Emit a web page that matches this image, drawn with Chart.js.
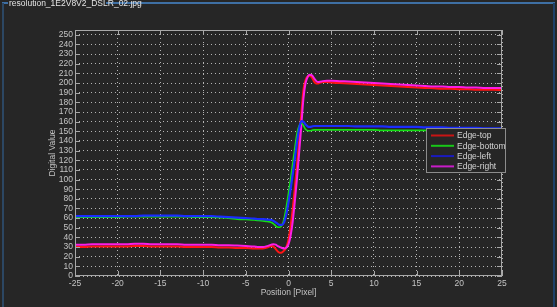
<!DOCTYPE html>
<html>
<head>
<meta charset="utf-8">
<script src="https://cdn.jsdelivr.net/npm/chart.js@4/dist/chart.umd.min.js"></script>
<style>
  html, body { margin:0; padding:0; background:#262626; width:557px; height:307px; overflow:hidden; }
  #wrap { position:absolute; left:0; top:0; width:557px; height:307px; }
  canvas { position:absolute; left:0; top:0; }
  .ln { position:absolute; pointer-events:none; }
  #ttl { position:absolute; left:9px; top:-2px; font:8.5px 'Liberation Sans Narrow','Liberation Sans',Arial,sans-serif; color:#e4e4e4; white-space:nowrap; }
</style>
</head>
<body>
<div id="wrap">
  <canvas id="c" width="557" height="307"></canvas>
  <div class="ln" style="left:2px;top:2px;width:6px;height:2px;background:#3e6fa3"></div>
  <div class="ln" style="left:106px;top:2px;width:449px;height:2px;background:#3e6fa3"></div>
  <div class="ln" style="left:2px;top:3px;width:2px;height:304px;background:#2c4763"></div>
  <div class="ln" style="left:553px;top:3px;width:2px;height:304px;background:#1f4068"></div>
  <div id="ttl">resolution_1E2V8V2_DSLR_02.jpg</div>
</div>
<script>
const seriesNames = ['Edge-top', 'Edge-bottom', 'Edge-left', 'Edge-right'];
const xTicks = [-25,-20,-15,-10,-5,0,5,10,15,20,25];
const yTicks = [0,10,20,30,40,50,60,70,80,90,100,110,120,130,140,150,160,170,180,190,200,210,220,230,240,250];

const positions = [-25,-24,-23,-22,-21,-20,-19,-18,-17,-16,-15,-14,-13,-12,-11,-10,-9,-8,-7,-6,-5,-4,
  -3.5,-3,-2.5,-2,
  -1.75,-1.5,-1.25,-1,-0.75,-0.5,-0.25,0,0.25,0.5,0.75,1,1.25,1.5,1.75,2,2.25,2.5,2.75,3,3.25,3.5,3.75,4,
  4.5,5,
  6,7,8,9,10,11,12,13,14,15,16,17,18,19,20,21,22,23,24,25];

const edgeTop = [30,30,30.5,30.5,30.5,30.5,30.5,31,31,30.5,30.5,30.5,30.5,30,30,30,30,29.5,29.5,29,29,28.5,
  28.5,28.5,29.5,31,
  30.5,28,25.5,24,24.5,26.5,30,38,52,70,92,116,141,168,193,203,207,207.5,205.5,201.5,199.5,199.5,200.5,201,
  201,200.5,
  200,199.5,199,198.5,198,197.5,197,196.5,196,195.5,195,194.5,194,194,193.5,193.5,193,193,193,192.5];

const edgeBottom = [61,61,61,61,61,61,61.5,61.5,61.5,61.5,61.5,61.5,61.5,61.5,61,61,61,60.5,60,59,58.5,58,
  57.5,57,56.5,55.5,
  54,52,50.5,50.5,53,60,72,86,101,117,133,148,156,158.5,156,152,150.5,150.5,151,151.5,151.5,151.5,151.5,151.5,
  151.5,151.5,
  151.5,151.5,151.5,151.5,151.5,151,151,151,151,151,151,150.5,150.5,150.5,150.5,150.5,150,150,150,150];

const edgeLeft = [62,62,62,62,62,62,62,62,62.5,62.5,62.5,62.5,62.5,62,62,62,62,61.5,61,60.5,60,59.5,
  59,59,58.5,58,
  57,55.5,54,53,53,56,64,76,90,106,122,139,153,160.5,160,157,155,154.5,155,155.5,155.5,155.5,155.5,155.5,
  155.5,155.5,
  155.5,155.5,155,155,155,155,154.5,154.5,154.5,154.5,154,154,154,153.5,153.5,153.5,153.5,153,153,153];

const edgeRight = [32.5,32.5,33,33,33,33,33,33.5,33.5,33,33,33,33,32.5,32.5,32.5,32.5,32,32,31.5,31,30.5,
  30,30,31,32.5,
  33,32.5,31,30,29,28.5,29.5,33,42,57,78,102,128,156,184,200,206.5,208.5,208,205,202,201,201.5,202,
  202.5,202.5,
  202,201.5,201,200.5,200,199.5,199,198.5,198,197.5,197,196.5,196.5,196,196,195.5,195.5,195,195,195];

const lineColors = ['#ff1414', '#14e014', '#1a2cff', '#ff1ce6'];
const legendColors = ['#c81414', '#18c818', '#1a1ac0', '#c81cc8'];
const lineWidths = [2, 1.6, 2.2, 2];
const allSeries = [edgeTop, edgeBottom, edgeLeft, edgeRight];
const drawOrder = [3, 1, 0, 2]; // lower 'order' drawn on top

const FONT = "'Liberation Sans Narrow','Liberation Sans',Arial,sans-serif";

const framePlugin = {
  id: 'frame',
  afterDatasetsDraw(chart) {
    const {ctx, chartArea: a, scales: {x, y}} = chart;
    ctx.save();
    ctx.strokeStyle = '#a8a8a8';
    ctx.lineWidth = 1;
    ctx.strokeRect(a.left + 0.5, a.top + 0.5, a.right - a.left - 1, a.bottom - a.top - 1);
    ctx.beginPath();
    yTicks.forEach(v => {
      const py = Math.round(y.getPixelForValue(v)) + 0.5;
      ctx.moveTo(a.left, py); ctx.lineTo(a.left + 5, py);
      ctx.moveTo(a.right, py); ctx.lineTo(a.right - 5, py);
    });
    xTicks.forEach(v => {
      const px = Math.round(x.getPixelForValue(v)) + 0.5;
      ctx.moveTo(px, a.bottom); ctx.lineTo(px, a.bottom - 5);
      ctx.moveTo(px, a.top); ctx.lineTo(px, a.top + 5);
    });
    ctx.stroke();

    // legend box
    const lx = 426, ly = 128, lw = 79, lh = 44;
    ctx.fillStyle = '#262626';
    ctx.fillRect(lx, ly, lw, lh);
    ctx.strokeStyle = '#8c8c8c';
    ctx.strokeRect(lx + 0.5, ly + 0.5, lw, lh);
    ctx.font = '8.5px ' + FONT;
    ctx.textBaseline = 'middle';
    ctx.textAlign = 'left';
    seriesNames.forEach((name, i) => {
      const yy = ly + 7.5 + i * 10.3;
      ctx.strokeStyle = legendColors[i];
      ctx.lineWidth = 2;
      ctx.beginPath();
      ctx.moveTo(lx + 5, yy); ctx.lineTo(lx + 28, yy);
      ctx.stroke();
      ctx.fillStyle = '#d4d4d4';
      ctx.fillText(name, lx + 31, yy + 0.5);
    });
    ctx.restore();
  }
};

new Chart(document.getElementById('c'), {
  type: 'line',
  data: {
    datasets: seriesNames.map((name, i) => ({
      label: name,
      order: drawOrder[i],
      data: positions.map((p, k) => ({x: p, y: allSeries[i][k]})),
      borderColor: lineColors[i],
      backgroundColor: lineColors[i],
      borderWidth: lineWidths[i],
      pointRadius: 0,
      cubicInterpolationMode: 'monotone',
      fill: false
    }))
  },
  options: {
    responsive: false,
    animation: false,
    layout: { padding: { top: 30, right: 55, left: 0, bottom: 0 } },
    plugins: { legend: { display: false }, tooltip: { enabled: false } },
    scales: {
      x: {
        type: 'linear', min: -25, max: 25,
        afterBuildTicks: s => { s.ticks = xTicks.map(v => ({value: v})); },
        afterFit: s => { s.height = 31; },
        grid: { color: '#b4b4b4', lineWidth: 1, drawTicks: false },
        border: { display: false, dash: [1, 3] },
        ticks: { color: '#c4c4c4', font: { family: FONT, size: 8.5 }, padding: 3, maxRotation: 0, autoSkip: false },
        title: { display: true, text: 'Position [Pixel]', color: '#c4c4c4', font: { family: FONT, size: 8.5 }, padding: { top: 0, bottom: 9 } }
      },
      y: {
        type: 'linear', min: 0, max: 255,
        afterBuildTicks: s => { s.ticks = yTicks.map(v => ({value: v})); },
        afterFit: s => { s.width = 75; },
        grid: { color: '#b4b4b4', lineWidth: 1, drawTicks: false },
        border: { display: false, dash: [1, 3] },
        ticks: { color: '#c4c4c4', font: { family: FONT, size: 8.5 }, padding: 2, autoSkip: false },
        title: { display: true, text: 'Digital Value', color: '#c4c4c4', font: { family: FONT, size: 8.5 }, padding: { top: 48, bottom: 0 } }
      }
    }
  },
  plugins: [framePlugin]
});
</script>
</body>
</html>
